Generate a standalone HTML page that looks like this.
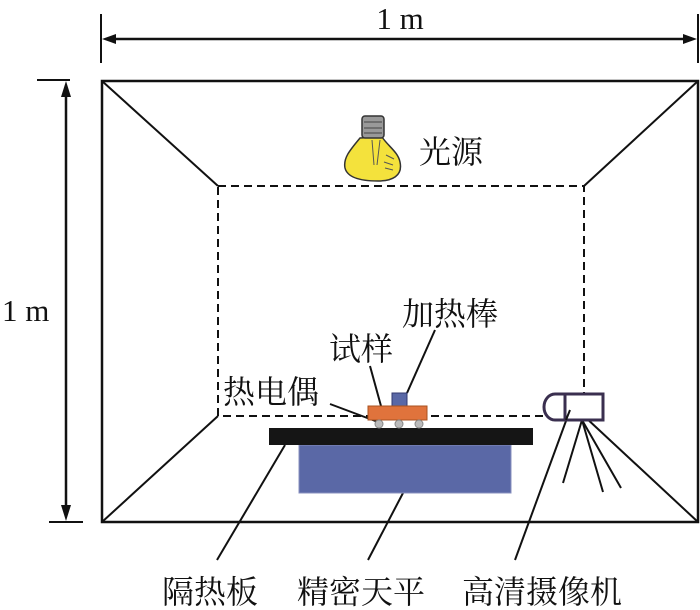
<!DOCTYPE html>
<html><head><meta charset="utf-8"><style>
html,body{margin:0;padding:0;background:#fff;}
svg{display:block;}
.z{font-family:"Liberation Serif","Noto Serif CJK SC",serif;font-size:32px;fill:#111;}
.m{font-family:"Liberation Serif",serif;font-size:31px;fill:#111;}
</style></head><body>
<svg width="700" height="610" viewBox="0 0 700 610" xmlns="http://www.w3.org/2000/svg">
<g stroke="#111" stroke-width="2" fill="none">
<line x1="101" y1="14" x2="101" y2="63"/>
<line x1="698" y1="14" x2="698" y2="63"/>
<line x1="110" y1="39" x2="690" y2="39" stroke-width="2.5"/>
<line x1="37" y1="80" x2="70" y2="80"/>
<line x1="49" y1="522" x2="83" y2="522"/>
<line x1="66" y1="90" x2="66" y2="512" stroke-width="2.5"/>
<rect x="102" y="81" width="596" height="441" stroke-width="2.5"/>
<line x1="102" y1="81" x2="218" y2="186"/>
<line x1="698" y1="81" x2="584" y2="186"/>
<line x1="102" y1="522" x2="218" y2="416"/>
<line x1="698" y1="522" x2="584" y2="416"/>
<rect x="218" y="186" width="366" height="230" stroke-dasharray="8,5"/>
<line x1="217" y1="560" x2="285" y2="445"/>
<line x1="368" y1="560" x2="403" y2="493"/>
<line x1="515" y1="560" x2="570" y2="410"/>
<line x1="435" y1="330" x2="407" y2="393"/>
<line x1="370" y1="366" x2="381" y2="406"/>
<line x1="330" y1="404" x2="378" y2="422"/>
<line x1="582" y1="420" x2="563" y2="483"/>
<line x1="582" y1="420" x2="603" y2="492"/>
<line x1="582" y1="420" x2="621" y2="488"/>
</g>
<g fill="#111">
<path d="M102,39 L116,34 L116,44 Z"/>
<path d="M697,39 L683,34 L683,44 Z"/>
<path d="M66,81 L61,97 L71,97 Z"/>
<path d="M66,521 L61,505 L71,505 Z"/>
</g>
<rect x="299" y="445" width="212" height="48" fill="#5a68a6" stroke="#8890bf"/>
<rect x="269" y="428" width="264" height="17" fill="#151515"/>
<rect x="392" y="393" width="15" height="13" fill="#5a68a6" stroke="#333a70"/>
<rect x="368" y="406" width="59" height="14" fill="#e0733c" stroke="#a8521f"/>
<g fill="#bbb" stroke="#888"><circle cx="379" cy="424" r="4"/><circle cx="399" cy="424" r="4"/><circle cx="419" cy="424" r="4"/></g>
<path d="M565,394 L555,394 A11,13 0 0 0 555,420 L565,420" fill="#fff" stroke="#3a2f4f" stroke-width="3"/>
<rect x="565" y="394" width="38" height="26" fill="#fff" stroke="#3a2f4f" stroke-width="3"/>
<line x1="570" y1="410" x2="566" y2="420" stroke="#111" stroke-width="2"/>
<path d="M360,138 C350,150 343,158 345,168 C348,180 368,181 378,181 C392,181 403,176 400,162 C398,152 388,146 382,137 Z" fill="#f4e23c" stroke="#333" stroke-width="1.5"/>
<rect x="362" y="116" width="22" height="22" rx="3" fill="#999" stroke="#333" stroke-width="1.5"/>
<path d="M364,122h18M364,128h18M364,133h18" stroke="#444"/>
<path d="M372,140 L374,165 M380,140 L377,165 M386,155 l8,4 M384,162 l9,3 M385,168 l8,2" stroke="#555" fill="none"/>
<text class="m" x="400" y="29" text-anchor="middle">1 m</text>
<text class="m" x="2" y="321">1 m</text>
<text class="z" x="419" y="163">光源</text>
<text class="z" x="402" y="325">加热棒</text>
<text class="z" x="329" y="360">试样</text>
<text class="z" x="223" y="403">热电偶</text>
<text class="z" x="162" y="603">隔热板</text>
<text class="z" x="297" y="603">精密天平</text>
<text class="z" x="462" y="603">高清摄像机</text>
</svg>
</body></html>
